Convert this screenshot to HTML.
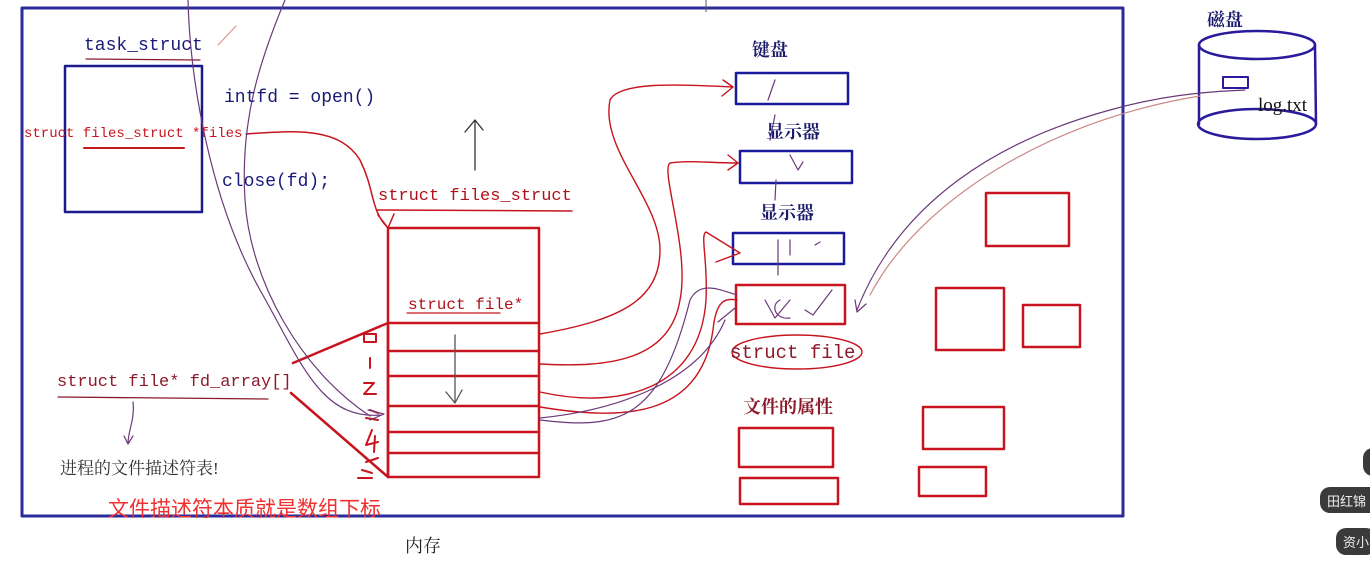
<!DOCTYPE html>
<html><head><meta charset="utf-8"><style>
html,body{margin:0;padding:0;background:#fff}
svg{display:block}
.m{font-family:"Liberation Mono","Noto Sans CJK SC",monospace}
.c{font-family:"Liberation Serif","Noto Serif CJK SC",serif}
</style></head><body>
<svg width="1370" height="587" viewBox="0 0 1370 587" xmlns="http://www.w3.org/2000/svg">
<rect width="1370" height="587" fill="#fff"/>
<g fill="none" stroke-linecap="round" stroke-linejoin="round">
<!-- memory box -->
<rect x="22" y="8" width="1101" height="508" stroke="#2b2b9c" stroke-width="3"/>
<!-- task box -->
<rect x="65" y="66" width="137" height="146" stroke="#1a1a8c" stroke-width="2.5"/>
<line x1="86" y1="59" x2="200" y2="60" stroke="#8b1a2a" stroke-width="1.2"/>
<line x1="218" y1="45" x2="236" y2="26" stroke="#d88" stroke-width="1"/>
<line x1="84" y1="148" x2="184" y2="148" stroke="#c01a1a" stroke-width="2"/>
<!-- table -->
<g stroke="#c8141e" stroke-width="2.5">
<rect x="388" y="228" width="151" height="249"/>
<line x1="388" y1="323" x2="539" y2="323"/>
<line x1="388" y1="351" x2="539" y2="351"/>
<line x1="388" y1="376" x2="539" y2="376"/>
<line x1="388" y1="406" x2="539" y2="406"/>
<line x1="388" y1="432" x2="539" y2="432"/>
<line x1="388" y1="453" x2="539" y2="453"/>
<line x1="388" y1="323" x2="388" y2="477"/>
<line x1="293" y1="363" x2="388" y2="323"/>
<line x1="291" y1="393" x2="388" y2="477"/>
</g>
<line x1="377" y1="210" x2="572" y2="211" stroke="#c8141e" stroke-width="1.5"/>
<line x1="407" y1="313" x2="500" y2="313" stroke="#c8141e" stroke-width="1.2"/>
<line x1="58" y1="397" x2="268" y2="399" stroke="#8b1a2a" stroke-width="1.3"/>
<!-- index marks -->
<g stroke="#c8141e" stroke-width="2">
<rect x="364" y="334" width="12" height="8"/>
<line x1="370" y1="358" x2="370" y2="368"/>
<path d="M364 383 L374 383 L364 394 L376 394"/>
<path d="M370 410 L378 413 M366 418 L378 420 M372 430 L366 445 L378 442 M375 436 L374 452 M366 462 L378 458 M362 470 L372 473 M358 478 L372 478"/>
</g>
<!-- up arrow and down arrow -->
<path d="M475 170 L475 120 M465 132 L475 120 L483 130" stroke="#333" stroke-width="1.3"/>
<path d="M455 335 L455 402 M446 392 L455 403 L462 390" stroke="#555" stroke-width="1.3"/>
<!-- red arrow files->files_struct -->
<path d="M246 134 C 300 130, 340 128, 360 160 C 375 190, 370 210, 388 228 M378 215 L388 228 L394 214" stroke="#c8141e" stroke-width="1.5"/>
<!-- device boxes -->
<g stroke="#1a1a9c" stroke-width="2.5">
<rect x="736" y="73" width="112" height="31"/>
<rect x="740" y="151" width="112" height="32"/>
<rect x="733" y="233" width="111" height="31"/>
</g>
<g stroke="#c8141e" stroke-width="2.5">
<rect x="736" y="285" width="109" height="39"/>
<rect x="986" y="193" width="83" height="53"/>
<rect x="936" y="288" width="68" height="62"/>
<rect x="1023" y="305" width="57" height="42"/>
<rect x="923" y="407" width="81" height="42"/>
<rect x="919" y="467" width="67" height="29"/>
<rect x="739" y="428" width="94" height="39"/>
<rect x="740" y="478" width="98" height="26"/>
</g>
<!-- disk -->
<g stroke="#2a1a9c" stroke-width="2.5">
<ellipse cx="1257" cy="45" rx="58" ry="14"/>
<ellipse cx="1257" cy="124" rx="59" ry="15"/>
<line x1="1199" y1="45" x2="1199" y2="124"/>
<line x1="1315" y1="45" x2="1316" y2="124"/>
<rect x="1223" y="77" width="25" height="11" stroke-width="2"/>
</g>
<!-- red curves from table to devices -->
<g stroke="#c8141e" stroke-width="1.4">
<path d="M540 334 C 620 320, 660 300, 660 250 C 660 200, 600 150, 610 100 C 620 80, 690 85, 733 87 M723 80 L733 87 L722 96"/>
<path d="M540 364 C 610 368, 670 360, 680 300 C 690 250, 660 170, 670 163 C 690 160, 710 163, 738 163 M728 155 L738 163 L728 170"/>
<path d="M540 392 C 620 410, 700 390, 706 300 C 708 260, 700 235, 706 232 L740 253 L716 262"/>
<path d="M540 407 C 620 420, 700 420, 713 330 C 716 300, 725 298, 737 300"/>
<ellipse cx="797" cy="352" rx="65" ry="17"/>
</g>
<g stroke="#6a3a7a" stroke-width="1.2">
<path d="M540 420 C 620 430, 660 420, 690 300 C 700 280, 720 290, 737 295"/>
<path d="M540 418 C 620 410, 700 380, 725 320 M718 322 L735 308"/>
<path d="M857 310 C 900 200, 1000 140, 1110 110 C 1160 96, 1200 92, 1245 90 M855 300 L857 312 L866 304"/>
<path d="M870 295 C 920 200, 1050 120, 1200 96" stroke="#c88"/>
<path d="M188 0 C 190 80, 210 200, 260 290 C 300 360, 320 420, 380 415 M368 410 L384 414 L370 420"/>
<path d="M285 0 C 260 60, 240 120, 245 200 C 250 280, 300 370, 370 416"/>
<path d="M133 402 C 135 420, 128 430, 128 444 M124 436 L128 444 L133 436"/>
<path d="M775 80 L768 100 M775 115 L770 140 M790 155 L798 170 L803 162 M776 180 L775 200 M778 240 L778 275 M790 240 L790 255 M815 245 L820 242 M765 300 L775 318 L790 300 M780 300 C 770 305, 775 320, 790 318 M805 310 L813 315 L832 290"/>
</g>
</g>
<!-- text -->
<text x="84" y="50" class="m" font-size="18" fill="#1a1a7a">task_struct</text>
<text x="224" y="102" class="m" font-size="18" fill="#1a1a7a">intfd = open()</text>
<text x="222" y="186" class="m" font-size="18" fill="#1a1a7a">close(fd);</text>
<text x="24" y="137" class="m" font-size="14" fill="#c8141e">struct files_struct *files</text>
<text x="378" y="200" class="m" font-size="17" fill="#b0101a">struct files_struct</text>
<text x="408" y="309" class="m" font-size="16" fill="#b0101a">struct file*</text>
<text x="57" y="386" class="m" font-size="17" fill="#8b1a2a">struct file* fd_array[]</text>
<text x="60" y="474" class="c" font-size="17" fill="#333">进程的文件描述符表!</text>
<text x="108" y="516" font-family="Liberation Sans,'Noto Sans CJK SC',sans-serif" font-size="21" fill="#f03030">文件描述符本质就是数组下标</text>
<text x="405" y="552" class="c" font-size="18" fill="#222">内存</text>
<text x="752" y="56" class="c" font-size="18" fill="#1a1a6a" font-weight="bold">键盘</text>
<text x="766" y="138" class="c" font-size="18" fill="#1a1a6a" font-weight="bold">显示器</text>
<text x="760" y="219" class="c" font-size="18" fill="#1a1a6a" font-weight="bold">显示器</text>
<text x="730" y="358" class="m" font-size="19" fill="#8b1a2a">struct file</text>
<text x="743" y="413" class="c" font-size="18" fill="#8b1a2a" font-weight="bold">文件的属性</text>
<text x="1207" y="26" class="c" font-size="18" fill="#1a1a6a" font-weight="bold">磁盘</text>
<text x="1258" y="111" class="c" font-size="19" fill="#111">log.txt</text>
<!-- side pills -->
<rect x="1363" y="448" width="20" height="28" rx="10" fill="#3a3a3a"/>
<rect x="1320" y="487" width="60" height="26" rx="10" fill="#3a3a3a"/>
<text x="1327" y="506" font-family="'Noto Sans CJK SC',sans-serif" font-size="13" fill="#eee">田红锦</text>
<rect x="1336" y="528" width="40" height="27" rx="10" fill="#3a3a3a"/>
<text x="1343" y="547" font-family="'Noto Sans CJK SC',sans-serif" font-size="13" fill="#eee">资小</text>
<line x1="706" y1="0" x2="706" y2="12" stroke="#555" stroke-width="1"/>
</svg>
</body></html>
